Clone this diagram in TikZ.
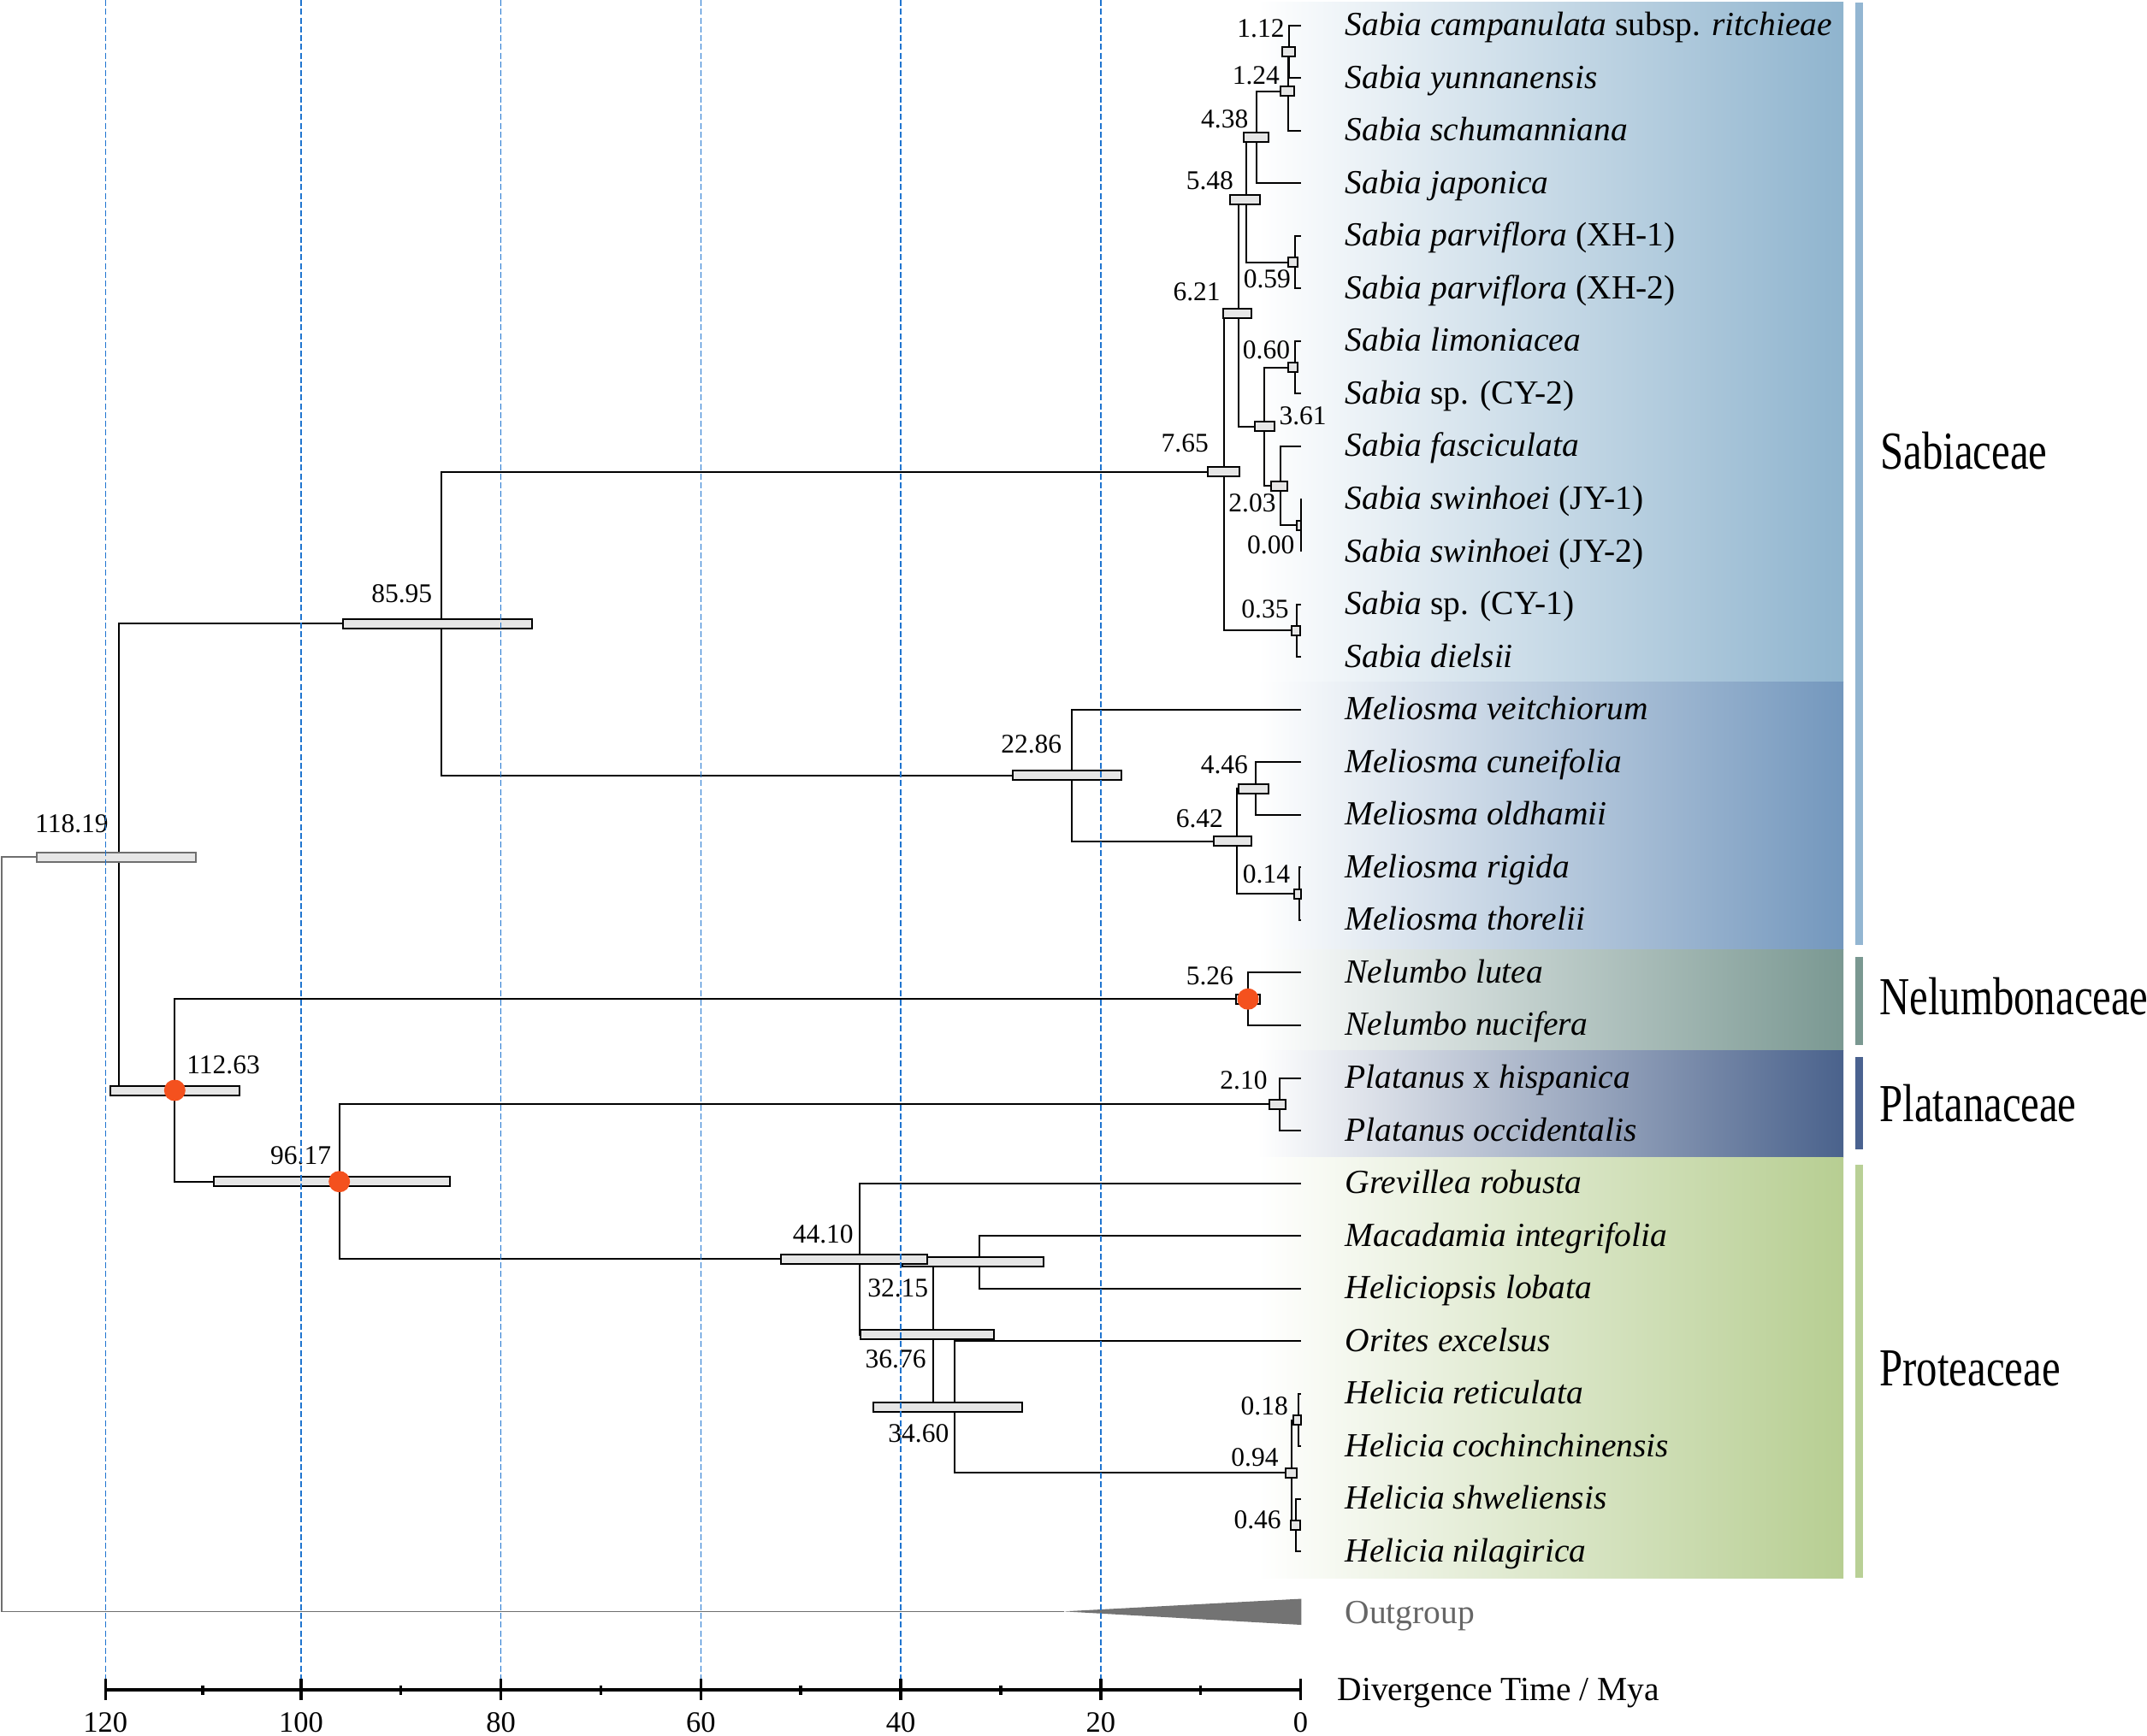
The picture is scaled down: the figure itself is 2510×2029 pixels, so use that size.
\documentclass[tikz,border=0pt]{standalone}
\usepackage{fontspec}
\setmainfont{Liberation Serif}
\newfontfamily\famfont[FakeStretch=0.78]{Liberation Serif}
\definecolor{sabband}{HTML}{8FB4CE}
\definecolor{melband}{HTML}{7397BD}
\definecolor{nelband}{HTML}{7A9892}
\definecolor{plaband}{HTML}{4A628C}
\definecolor{proband}{HTML}{B7CE92}
\definecolor{sabbar}{HTML}{93B6D2}
\definecolor{nelbar}{HTML}{7A9891}
\definecolor{plabar}{HTML}{4A6290}
\definecolor{probar}{HTML}{B9D096}
\definecolor{hpdfill}{HTML}{E6E6E6}
\definecolor{calibred}{HTML}{F4511E}
\definecolor{rootgray}{HTML}{6F6F6F}
\definecolor{wedgegray}{HTML}{737373}
\definecolor{gridblue}{HTML}{1F74CF}
\definecolor{outgray}{HTML}{666666}
\begin{document}
\begin{tikzpicture}[x=0.4pt,y=-0.4pt,
		branch/.style={line width=0.8pt},
		rootline/.style={line width=0.6pt,draw=rootgray},
		hpd/.style={line width=0.8pt,draw=black,fill=hpdfill},
		hpdroot/.style={hpd,draw=rootgray},
		calib/.style={fill=calibred},
		mya line/.style={draw=gridblue,line width=0.6pt,dash pattern=on 2.8pt off 1.3pt},
		axisline/.style={line width=1.5pt},
		tickmark/.style={line width=1.4pt},
		taxon/.style={anchor=base west,inner sep=0pt,font=\fontsize{15.8}{18}\selectfont},
		age/.style={anchor=east,inner sep=0pt,font=\fontsize{12.6}{14}\selectfont},
		family/.style={anchor=base west,inner sep=0pt,font=\famfont\fontsize{25}{28}\selectfont},
		ticklab/.style={anchor=base,inner sep=0pt,font=\fontsize{13.8}{16}\selectfont}]
	\useasboundingbox (0,0) rectangle (2510,2029);
	\shade[left color=white,right color=sabband] (1470,2) rectangle (2155,797.3);
	\shade[left color=white,right color=melband] (1470,797.3) rectangle (2155,1110.7);
	\shade[left color=white,right color=nelband] (1470,1110.7) rectangle (2155,1228);
	\shade[left color=white,right color=plaband] (1470,1228) rectangle (2155,1353);
	\shade[left color=white,right color=proband] (1470,1353) rectangle (2155,1845);
	\fill[sabbar] (2169.3,3) rectangle (2178.3,1104.6);
	\fill[nelbar] (2169.3,1119.2) rectangle (2178.3,1222.4);
	\fill[plabar] (2169.3,1235.7) rectangle (2178.3,1343.8);
	\fill[probar] (2169.3,1362) rectangle (2178.3,1845);
	\node[family] (fsab) at (2198,548.7) {Sabiaceae};
	\node[family] (fnel) at (2197,1186) {Nelumbonaceae};
	\node[family] (fpla) at (2197,1311) {Platanaceae};
	\node[family] (fpro) at (2197,1620.5) {Proteaceae};
	\coordinate (t1) at (1520.5,29.5);
	\coordinate (t2) at (1520.5,91.05);
	\coordinate (t3) at (1520.5,152.6);
	\coordinate (t4) at (1520.5,214.15);
	\coordinate (t5) at (1520.5,275.7);
	\coordinate (t6) at (1520.5,337.25);
	\coordinate (t7) at (1520.5,398.8);
	\coordinate (t8) at (1520.5,460.35);
	\coordinate (t9) at (1520.5,521.9);
	\coordinate (t10) at (1520.5,583.45);
	\coordinate (t11) at (1520.5,645);
	\coordinate (t12) at (1520.5,706.55);
	\coordinate (t13) at (1520.5,768.1);
	\coordinate (t14) at (1520.5,829.65);
	\coordinate (t15) at (1520.5,891.2);
	\coordinate (t16) at (1520.5,952.75);
	\coordinate (t17) at (1520.5,1014.3);
	\coordinate (t18) at (1520.5,1075.85);
	\coordinate (t19) at (1520.5,1137.4);
	\coordinate (t20) at (1520.5,1198.95);
	\coordinate (t21) at (1520.5,1260.5);
	\coordinate (t22) at (1520.5,1322.05);
	\coordinate (t23) at (1520.5,1383.6);
	\coordinate (t24) at (1520.5,1445.15);
	\coordinate (t25) at (1520.5,1506.7);
	\coordinate (t26) at (1520.5,1568.25);
	\coordinate (t27) at (1520.5,1629.8);
	\coordinate (t28) at (1520.5,1691.35);
	\coordinate (t29) at (1520.5,1752.9);
	\coordinate (t30) at (1520.5,1814.45);
	\coordinate (n112) at (1507.4,60.3);
	\coordinate (n124) at (1506,106.5);
	\coordinate (n438) at (1469.3,160.3);
	\coordinate (n059) at (1513.6,306.5);
	\coordinate (n548) at (1456.5,233.4);
	\coordinate (n060) at (1513.5,429.6);
	\coordinate (n000) at (1520.5,614.2);
	\coordinate (n203) at (1496.8,568.1);
	\coordinate (n361) at (1478.3,498.8);
	\coordinate (n621) at (1447.9,366.1);
	\coordinate (n035) at (1516.4,737.3);
	\coordinate (n765) at (1431.1,551.7);
	\coordinate (n446) at (1468.4,922);
	\coordinate (n014) at (1518.9,1045.1);
	\coordinate (n642) at (1445.5,983.5);
	\coordinate (n2286) at (1253.4,906.6);
	\coordinate (n8595) at (516.1,729.1);
	\coordinate (n526) at (1459,1168.2);
	\coordinate (n210) at (1496,1291.3);
	\coordinate (n018) at (1518.4,1660.6);
	\coordinate (n046) at (1515.1,1783.7);
	\coordinate (n094) at (1509.5,1722.1);
	\coordinate (n3460) at (1116.2,1645.2);
	\coordinate (n3215) at (1144.8,1475.9);
	\coordinate (n3676) at (1090.9,1560.6);
	\coordinate (n4410) at (1005.1,1472.1);
	\coordinate (n9617) at (396.7,1381.7);
	\coordinate (n11263) at (204.3,1275);
	\coordinate (n11819) at (139.3,1002);
	\coordinate (root) at (2.2,1443.2);
	\coordinate (og) at (1243.8,1884.3);
	\coordinate (ogtop) at (1521.4,1869.5);
	\coordinate (ogbot) at (1521.4,1900);
	\draw[branch] (n112) |- (t1);
	\draw[branch] (n112) |- (t2);
	\draw[branch] (n124) |- (n112);
	\draw[branch] (n124) |- (t3);
	\draw[branch] (n438) |- (n124);
	\draw[branch] (n438) |- (t4);
	\draw[branch] (n548) |- (n438);
	\draw[branch] (n548) |- (n059);
	\draw[branch] (n059) |- (t5);
	\draw[branch] (n059) |- (t6);
	\draw[branch] (n621) |- (n548);
	\draw[branch] (n621) |- (n361);
	\draw[branch] (n361) |- (n060);
	\draw[branch] (n361) |- (n203);
	\draw[branch] (n060) |- (t7);
	\draw[branch] (n060) |- (t8);
	\draw[branch] (n203) |- (t9);
	\draw[branch] (n203) |- (n000);
	\draw[branch] (n000) |- (t10);
	\draw[branch] (n000) |- (t11);
	\draw[branch] (n765) |- (n621);
	\draw[branch] (n765) |- (n035);
	\draw[branch] (n035) |- (t12);
	\draw[branch] (n035) |- (t13);
	\draw[branch] (n8595) |- (n765);
	\draw[branch] (n8595) |- (n2286);
	\draw[branch] (n2286) |- (t14);
	\draw[branch] (n2286) |- (n642);
	\draw[branch] (n642) |- (n446);
	\draw[branch] (n642) |- (n014);
	\draw[branch] (n446) |- (t15);
	\draw[branch] (n446) |- (t16);
	\draw[branch] (n014) |- (t17);
	\draw[branch] (n014) |- (t18);
	\draw[branch] (n11819) |- (n8595);
	\draw[branch] (n11819) |- (n11263);
	\draw[branch] (n11263) |- (n526);
	\draw[branch] (n11263) |- (n9617);
	\draw[branch] (n526) |- (t19);
	\draw[branch] (n526) |- (t20);
	\draw[branch] (n9617) |- (n210);
	\draw[branch] (n9617) |- (n4410);
	\draw[branch] (n210) |- (t21);
	\draw[branch] (n210) |- (t22);
	\draw[branch] (n4410) |- (t23);
	\draw[branch] (n4410) |- (n3676);
	\draw[branch] (n3676) |- (n3215);
	\draw[branch] (n3676) |- (n3460);
	\draw[branch] (n3215) |- (t24);
	\draw[branch] (n3215) |- (t25);
	\draw[branch] (n3460) |- (t26);
	\draw[branch] (n3460) |- (n094);
	\draw[branch] (n094) |- (n018);
	\draw[branch] (n094) |- (n046);
	\draw[branch] (n018) |- (t27);
	\draw[branch] (n018) |- (t28);
	\draw[branch] (n046) |- (t29);
	\draw[branch] (n046) |- (t30);
	\draw[rootline] (root) |- (n11819);
	\draw[rootline] (root) |- (og);
	\fill[wedgegray] (og) -- (ogtop) -- (ogbot) -- cycle;
	\draw[hpdroot] (43.3,996.5) rectangle (228.6,1007.5);
	\draw[hpd] (128.6,1269.5) rectangle (279.5,1280.5);
	\draw[hpd] (250,1376.2) rectangle (525.9,1387.2);
	\draw[hpd] (400.5,723.6) rectangle (621.8,734.6);
	\draw[hpd] (1183.7,901.1) rectangle (1311,912.1);
	\draw[hpd] (1412,546.2) rectangle (1448.7,557.2);
	\draw[hpd] (1430.4,360.6) rectangle (1462.9,371.6);
	\draw[hpd] (1438.4,227.9) rectangle (1472.8,238.9);
	\draw[hpd] (1453.6,154.8) rectangle (1483,165.8);
	\draw[hpd] (1497.3,101) rectangle (1512.5,112);
	\draw[hpd] (1498.7,54.8) rectangle (1513.8,65.8);
	\draw[hpd] (1506.3,301) rectangle (1517.4,312);
	\draw[hpd] (1506.3,424.1) rectangle (1517.4,435.1);
	\draw[hpd] (1466.5,493.3) rectangle (1489.7,504.3);
	\draw[hpd] (1486.2,562.6) rectangle (1504.9,573.6);
	\draw[hpd] (1516,608.7) rectangle (1521,619.7);
	\draw[hpd] (1509.8,731.8) rectangle (1519.6,742.8);
	\draw[hpd] (1448.2,916.5) rectangle (1483,927.5);
	\draw[hpd] (1419.2,978) rectangle (1462.9,989);
	\draw[hpd] (1513.4,1039.6) rectangle (1521,1050.6);
	\draw[hpd] (1444.6,1162.7) rectangle (1473.2,1173.7);
	\draw[hpd] (1483.9,1285.8) rectangle (1503.1,1296.8);
	\draw[hpd] (1054.9,1470.4) rectangle (1220.1,1481.4);
	\draw[hpd] (913.4,1466.6) rectangle (1083.9,1477.6);
	\draw[hpd] (1005.8,1555.1) rectangle (1162,1566.1);
	\draw[hpd] (1020.5,1639.7) rectangle (1194.6,1650.7);
	\draw[hpd] (1511.6,1655.1) rectangle (1521,1666.1);
	\draw[hpd] (1502.7,1716.6) rectangle (1516.1,1727.6);
	\draw[hpd] (1508.5,1778.2) rectangle (1519.6,1789.2);
	\fill[calib] (n11263) circle (5pt);
	\fill[calib] (n9617) circle (5pt);
	\fill[calib] (n526) circle (5pt);
	\node[age] (a112) at (1502,33) {1.12};
	\node[age] (a124) at (1496.4,88.3) {1.24};
	\node[age] (a438) at (1459.8,139.2) {4.38};
	\node[age] (a548) at (1442.4,210.8) {5.48};
	\node[age] (a621) at (1427.2,340.8) {6.21};
	\node[age] (a059) at (1509.4,325.8) {0.59};
	\node[age] (a060) at (1508.5,409.5) {0.60};
	\node[age,anchor=west] (a361) at (1495,486.7) {3.61};
	\node[age] (a203) at (1492,588.7) {2.03};
	\node[age] (a000) at (1513.8,637) {0.00};
	\node[age] (a035) at (1507.1,712.2) {0.35};
	\node[age] (a765) at (1413.3,517.8) {7.65};
	\node[age] (a8595) at (505.7,693.8) {85.95};
	\node[age] (a11819) at (127.2,962.8) {118.19};
	\node[age,anchor=west] (a11263) at (217.9,1245) {112.63};
	\node[age] (a9617) at (387.5,1351.3) {96.17};
	\node[age] (a2286) at (1241.7,870.5) {22.86};
	\node[age] (a446) at (1459.4,894.2) {4.46};
	\node[age] (a642) at (1430.4,957.5) {6.42};
	\node[age] (a014) at (1508.5,1022.5) {0.14};
	\node[age] (a526) at (1442.4,1141.2) {5.26};
	\node[age] (a210) at (1482.1,1263.3) {2.10};
	\node[age] (a4410) at (998.2,1443.3) {44.10};
	\node[age] (a3215) at (1085.7,1505.8) {32.15};
	\node[age] (a3676) at (1083,1589.5) {36.76};
	\node[age] (a3460) at (1109.8,1676.2) {34.60};
	\node[age] (a018) at (1506.3,1644.2) {0.18};
	\node[age] (a094) at (1495.1,1704.2) {0.94};
	\node[age] (a046) at (1498.2,1777.5) {0.46};
	\node[taxon] (l1) at (1572,41.5) {\textit{Sabia campanulata} subsp. \textit{ritchieae}};
	\node[taxon] (l2) at (1572,103.05) {\textit{Sabia yunnanensis}};
	\node[taxon] (l3) at (1572,164.6) {\textit{Sabia schumanniana}};
	\node[taxon] (l4) at (1572,226.15) {\textit{Sabia japonica}};
	\node[taxon] (l5) at (1572,287.7) {\textit{Sabia parviflora} (XH-1)};
	\node[taxon] (l6) at (1572,349.25) {\textit{Sabia parviflora} (XH-2)};
	\node[taxon] (l7) at (1572,410.8) {\textit{Sabia limoniacea}};
	\node[taxon] (l8) at (1572,472.35) {\textit{Sabia} sp. (CY-2)};
	\node[taxon] (l9) at (1572,533.9) {\textit{Sabia fasciculata}};
	\node[taxon] (l10) at (1572,595.45) {\textit{Sabia swinhoei} (JY-1)};
	\node[taxon] (l11) at (1572,657) {\textit{Sabia swinhoei} (JY-2)};
	\node[taxon] (l12) at (1572,718.55) {\textit{Sabia} sp. (CY-1)};
	\node[taxon] (l13) at (1572,780.1) {\textit{Sabia dielsii}};
	\node[taxon] (l14) at (1572,841.65) {\textit{Meliosma veitchiorum}};
	\node[taxon] (l15) at (1572,903.2) {\textit{Meliosma cuneifolia}};
	\node[taxon] (l16) at (1572,964.75) {\textit{Meliosma oldhamii}};
	\node[taxon] (l17) at (1572,1026.3) {\textit{Meliosma rigida}};
	\node[taxon] (l18) at (1572,1087.85) {\textit{Meliosma thorelii}};
	\node[taxon] (l19) at (1572,1149.4) {\textit{Nelumbo lutea}};
	\node[taxon] (l20) at (1572,1210.95) {\textit{Nelumbo nucifera}};
	\node[taxon] (l21) at (1572,1272.5) {\textit{Platanus} x \textit{hispanica}};
	\node[taxon] (l22) at (1572,1334.05) {\textit{Platanus occidentalis}};
	\node[taxon] (l23) at (1572,1395.6) {\textit{Grevillea robusta}};
	\node[taxon] (l24) at (1572,1457.15) {\textit{Macadamia integrifolia}};
	\node[taxon] (l25) at (1572,1518.7) {\textit{Heliciopsis lobata}};
	\node[taxon] (l26) at (1572,1580.25) {\textit{Orites excelsus}};
	\node[taxon] (l27) at (1572,1641.8) {\textit{Helicia reticulata}};
	\node[taxon] (l28) at (1572,1703.35) {\textit{Helicia cochinchinensis}};
	\node[taxon] (l29) at (1572,1764.9) {\textit{Helicia shweliensis}};
	\node[taxon] (l30) at (1572,1826.45) {\textit{Helicia nilagirica}};
	\node[taxon,text=outgray] (lout) at (1572,1898) {Outgroup};
	\draw[axisline] (123.3,1975.7) -- (1520.5,1975.7);
	\draw[tickmark] (123.3,1963) -- (123.3,1988);
	\draw[tickmark] (237.1,1971) -- (237.1,1982);
	\draw[tickmark] (351.9,1963) -- (351.9,1988);
	\draw[tickmark] (468.7,1971) -- (468.7,1982);
	\draw[tickmark] (585.6,1963) -- (585.6,1988);
	\draw[tickmark] (702.4,1971) -- (702.4,1982);
	\draw[tickmark] (819.3,1963) -- (819.3,1988);
	\draw[tickmark] (936.1,1971) -- (936.1,1982);
	\draw[tickmark] (1053.1,1963) -- (1053.1,1988);
	\draw[tickmark] (1169.9,1971) -- (1169.9,1982);
	\draw[tickmark] (1286.8,1963) -- (1286.8,1988);
	\draw[tickmark] (1403.6,1971) -- (1403.6,1982);
	\draw[tickmark] (1520.5,1963) -- (1520.5,1988);
	\node[ticklab] (k120) at (123.3,2025) {120};
	\node[ticklab] (k100) at (351.9,2025) {100};
	\node[ticklab] (k80) at (585.6,2025) {80};
	\node[ticklab] (k60) at (819.3,2025) {60};
	\node[ticklab] (k40) at (1053.1,2025) {40};
	\node[ticklab] (k20) at (1286.8,2025) {20};
	\node[ticklab] (k0) at (1520.5,2025) {0};
	\node[taxon] (ltitle) at (1563,1988.3) {Divergence Time / Mya};
	\draw[mya line] (123.3,0) -- (123.3,1963);
	\draw[mya line] (351.9,0) -- (351.9,1963);
	\draw[mya line] (585.6,0) -- (585.6,1963);
	\draw[mya line] (819.3,0) -- (819.3,1963);
	\draw[mya line] (1053.1,0) -- (1053.1,1963);
	\draw[mya line] (1286.8,0) -- (1286.8,1963);
\end{tikzpicture}
\end{document}
